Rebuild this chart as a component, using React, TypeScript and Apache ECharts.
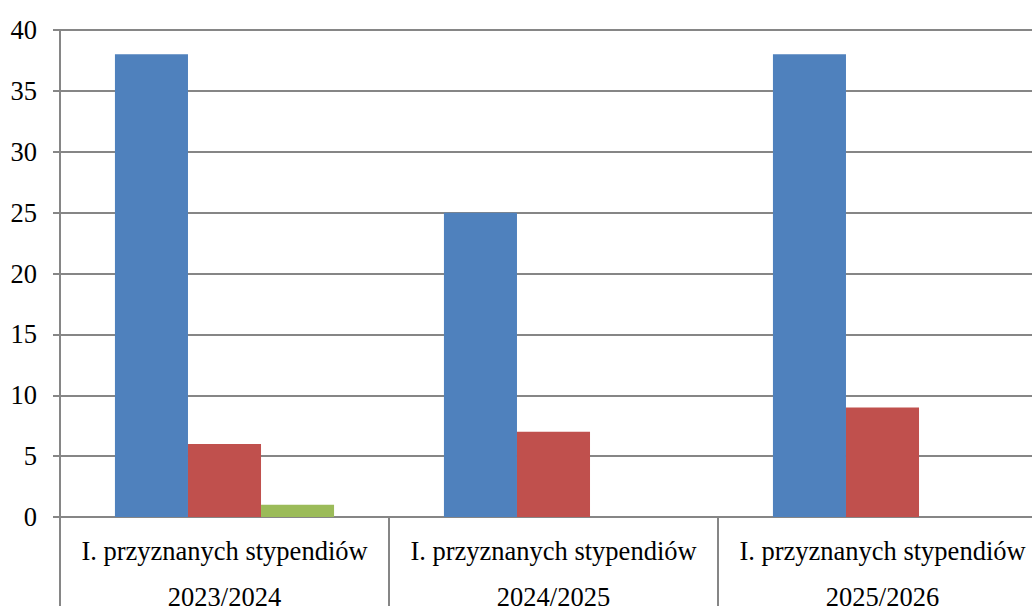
import React, { useEffect, useRef } from "react";
import * as echarts from "echarts";

const categories = [
  "I. przyznanych stypendiów\n2023/2024",
  "I. przyznanych stypendiów\n2024/2025",
  "I. przyznanych stypendiów\n2025/2026",
];
const series1 = [38, 25, 38];
const series2 = [6, 7, 9];
const series3 = [1, 0, 0];
const seriesNames = ["Seria 1", "Seria 2", "Seria 3"];
const colors = ["#4F81BD", "#C0504D", "#9BBB59"];

const FONT = "Liberation Serif";

export default function App() {
  const ref = useRef<HTMLDivElement>(null);
  useEffect(() => {
    if (!ref.current) return;
    const chart = echarts.init(ref.current, undefined, { renderer: "svg" });
    const data = [series1, series2, series3];
    chart.setOption({
      animation: false,
      textStyle: { fontFamily: FONT },
      grid: { left: 60, top: 30, width: 987, height: 487, containLabel: false },
      xAxis: {
        type: "category",
        data: categories,
        axisLine: { show: true, lineStyle: { color: "#868686", width: 2 } },
        axisTick: {
          show: true,
          alignWithLabel: false,
          length: 100,
          lineStyle: { color: "#868686", width: 2 },
        },
        axisLabel: {
          color: "#000",
          fontFamily: FONT,
          fontSize: 26.5,
          lineHeight: 46,
          margin: 11,
          interval: 0,
        },
      },
      yAxis: {
        type: "value",
        min: 0,
        max: 40,
        interval: 5,
        axisLine: { show: true, lineStyle: { color: "#868686", width: 2 } },
        axisTick: { show: true, length: 7, lineStyle: { color: "#868686", width: 2 } },
        splitLine: { show: true, lineStyle: { color: "#868686", width: 2 } },
        axisLabel: {
          color: "#000",
          fontFamily: FONT,
          fontSize: 26.5,
          margin: 23,
        },
      },
      series: data.map((d, i) => ({
        name: seriesNames[i],
        type: "bar",
        data: d,
        barGap: "0%",
        barCategoryGap: "33.4%",
        itemStyle: { color: colors[i] },
      })),
    });
    return () => chart.dispose();
  }, []);
  return (
    <div style={{ position: "absolute", left: 0, top: 0, width: 1032, height: 606, overflow: "hidden", background: "#fff" }}>
      <div ref={ref} style={{ width: 1060, height: 630 }} />
    </div>
  );
}
